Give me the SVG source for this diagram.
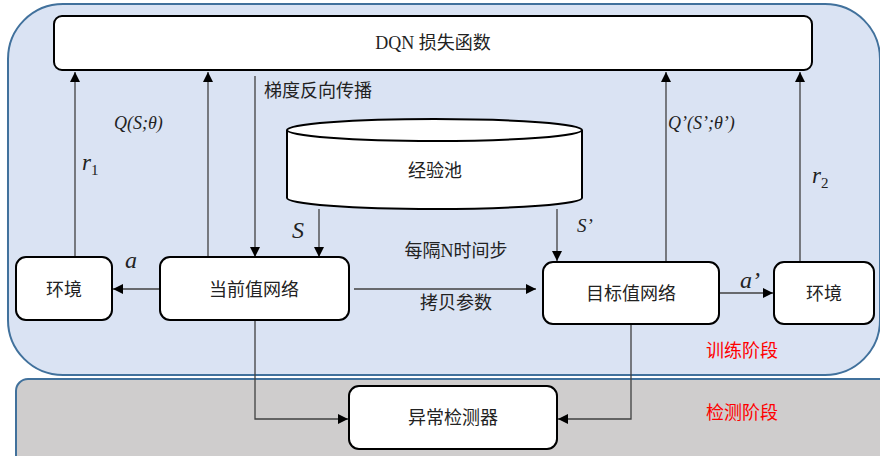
<svg xmlns="http://www.w3.org/2000/svg" width="880" height="456" viewBox="0 0 880 456">
<defs>
<marker id="ah" viewBox="0 0 10 10" refX="10" refY="5" markerWidth="10" markerHeight="10" markerUnits="userSpaceOnUse" orient="auto">
<path d="M0,0 L10,5 L0,10 z" fill="#000"/>
</marker>
<style>
.region{stroke:#41719c;stroke-width:2}
.box{fill:#fff;stroke:#000;stroke-width:2}
.lbl{fill:#222;text-anchor:middle;font-family:'Liberation Serif','Noto Sans CJK SC',serif;font-size:18px}
.it{font-style:italic;fill:#222;font-family:'Liberation Serif',serif}
.red{fill:#ff0000;text-anchor:middle;font-family:'Liberation Serif','Noto Sans CJK SC',serif;font-size:18px}
.con{fill:none;stroke:#404040;stroke-width:1.3}
</style>
</defs>
<rect width="880" height="456" fill="#fff"/>
<g id="train-stage">
<rect class="region" x="8" y="4" width="872" height="371" rx="55" ry="55" fill="#dae3f3"/>
</g>
<g id="detect-stage">
<rect class="region" x="16" y="379" width="890" height="100" rx="12" ry="12" fill="#cfcdcd"/>
</g>
<g id="connectors">
<line class="con" x1="75" y1="257" x2="75" y2="72" marker-end="url(#ah)"/>
<line class="con" x1="208" y1="258" x2="208" y2="72" marker-end="url(#ah)"/>
<line class="con" x1="666" y1="262" x2="666" y2="72" marker-end="url(#ah)"/>
<line class="con" x1="800" y1="262" x2="800" y2="72" marker-end="url(#ah)"/>
<line class="con" x1="255" y1="76" x2="255" y2="257" marker-end="url(#ah)"/>
<line class="con" x1="319" y1="209" x2="319" y2="257" marker-end="url(#ah)"/>
<line class="con" x1="557" y1="209" x2="557" y2="261" marker-end="url(#ah)"/>
<line class="con" x1="160" y1="289" x2="113" y2="289" marker-end="url(#ah)"/>
<line class="con" x1="354" y1="289" x2="536" y2="289" marker-end="url(#ah)"/>
<line class="con" x1="719" y1="293" x2="773" y2="293" marker-end="url(#ah)"/>
<polyline class="con" points="255,320 255,419 348,419" marker-end="url(#ah)"/>
<polyline class="con" points="631,324 631,419 558,419" marker-end="url(#ah)"/>
</g>
<g id="dqn-loss">
<rect class="box" x="54" y="16" width="758" height="54" rx="8"/>
<text class="lbl" x="433" y="49">DQN 损失函数</text>
</g>
<g id="replay-pool">
<path class="box" d="M287,130 L287,198 A147.5,11 0 0 0 582,198 L582,130"/>
<ellipse class="box" cx="434.5" cy="130" rx="147.5" ry="11"/>
<text class="lbl" x="435" y="177">经验池</text>
</g>
<g id="env-left">
<rect class="box" x="16" y="257" width="96" height="63" rx="10"/>
<text class="lbl" x="64" y="296">环境</text>
</g>
<g id="current-net">
<rect class="box" x="160" y="257" width="189" height="63" rx="10"/>
<text class="lbl" x="254" y="296">当前值网络</text>
</g>
<g id="target-net">
<rect class="box" x="543" y="262" width="176" height="62" rx="10"/>
<text class="lbl" x="631" y="300">目标值网络</text>
</g>
<g id="env-right">
<rect class="box" x="774" y="262" width="100" height="62" rx="10"/>
<text class="lbl" x="824" y="300">环境</text>
</g>
<g id="detector">
<rect class="box" x="349" y="386" width="208" height="63" rx="10"/>
<text class="lbl" x="453" y="424">异常检测器</text>
</g>
<g id="labels">
<text class="lbl" x="318" y="97">梯度反向传播</text>
<text class="it" x="114" y="129" style="font-size:18px">Q(S;θ)</text>
<text class="it" x="668" y="129" style="font-size:18px">Q’(S’;θ’)</text>
<text class="it" x="82" y="170" style="font-size:23px">r<tspan style="font-style:normal;font-size:15px" dy="5">1</tspan></text>
<text class="it" x="812" y="183" style="font-size:23px">r<tspan style="font-style:normal;font-size:15px" dy="5">2</tspan></text>
<text class="it" x="292" y="238" style="font-size:24px">S</text>
<text class="it" x="577" y="232" style="font-size:19px">S’</text>
<text class="it" x="125" y="268" style="font-size:24px">a</text>
<text class="it" x="740" y="288" style="font-size:24px">a’</text>
<text class="lbl" x="456" y="257">每隔N时间步</text>
<text class="lbl" x="456" y="309">拷贝参数</text>
<text class="red" x="742" y="357">训练阶段</text>
<text class="red" x="742" y="419">检测阶段</text>
</g>
</svg>
